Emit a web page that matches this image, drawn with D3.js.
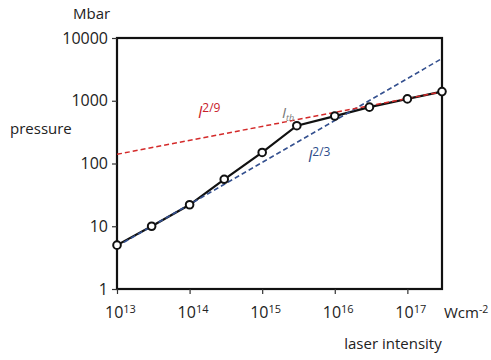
<!DOCTYPE html>
<html>
<head>
<meta charset="utf-8">
<script src="https://cdn.jsdelivr.net/npm/d3@7"></script>
<style>
  body { margin: 0; background: #fff; }
  svg text { font-family: "Open Sans", "Noto Sans", sans-serif; }
</style>
</head>
<body>
<script>
// measured pressure vs laser intensity
var intensity = [1e13, 3e13, 1e14, 3e14, 1e15, 3e15, 1e16, 3e16, 1e17, 3e17];
var pressure = [5, 10, 22, 56, 150, 400, 570, 790, 1070, 1400];

// scaling lines (end points)
var fit29 = [[1e13, 140], [3e17, 1390]];
var fit23 = [[1e13, 4.8], [3e17, 4700]];

var xTicks = [13, 14, 15, 16, 17];
var yTicks = [1, 10, 100, 1000, 10000];

var w = 491, h = 360;
var margin = { top: 38, right: 49, bottom: 71, left: 117 },
  width = w - margin.left - margin.right,
  height = h - margin.top - margin.bottom;

var svg = d3.select("body").append("svg")
  .attr("width", w)
  .attr("height", h);

var x = d3.scaleLog()
  .domain([1e13, 3e17])
  .range([0, width]);

var y = d3.scaleLog()
  .domain([1, 10000])
  .range([height, 0]);

var g = svg.append("g")
  .attr("transform", "translate(" + margin.left + "," + margin.top + ")");

// frame
g.append("rect")
  .attr("width", width)
  .attr("height", height)
  .attr("fill", "none")
  .attr("stroke", "#111")
  .attr("stroke-width", 2.2);

var yAxis = d3.axisLeft(y)
  .tickValues(yTicks)
  .tickFormat(d3.format("d"))
  .tickSize(5)
  .tickPadding(4);

var yG = g.append("g").call(yAxis);
yG.select(".domain").remove();
yG.selectAll("line").attr("stroke", "#333").attr("stroke-width", 1.2);
yG.selectAll("text")
  .attr("font-size", 16)
  .attr("fill", "#222");

var xAxis = d3.axisBottom(x)
  .tickValues(xTicks.map(function (e) { return Math.pow(10, e); }))
  .tickFormat("")
  .tickSize(5);

var xG = g.append("g")
  .attr("transform", "translate(0," + height + ")")
  .call(xAxis);
xG.select(".domain").remove();
xG.selectAll("line").attr("stroke", "#333").attr("stroke-width", 1.2);

// x tick labels with superscript exponents
xTicks.forEach(function (e) {
  var t = g.append("text")
    .attr("x", x(Math.pow(10, e)) - 12)
    .attr("y", height + 29)
    .attr("font-size", 16)
    .attr("fill", "#222");
  t.append("tspan").text("10");
  t.append("tspan")
    .attr("dy", -5)
    .attr("font-size", 11)
    .text(e);
});

var line = d3.line()
  .x(function (d) { return x(d[0]); })
  .y(function (d) { return y(d[1]); });

var points = intensity.map(function (d, i) { return [d, pressure[i]]; });

g.append("path")
  .datum(points)
  .attr("d", line)
  .attr("fill", "none")
  .attr("stroke", "#111")
  .attr("stroke-width", 2.2);

g.append("path")
  .datum(fit23)
  .attr("d", line)
  .attr("fill", "none")
  .attr("stroke", "#34508f")
  .attr("stroke-width", 1.5)
  .attr("stroke-dasharray", "5,3");

g.append("path")
  .datum(fit29)
  .attr("d", line)
  .attr("fill", "none")
  .attr("stroke", "#d42a2a")
  .attr("stroke-width", 1.5)
  .attr("stroke-dasharray", "5,3");

g.selectAll("circle.pt")
  .data(points)
  .enter().append("circle")
  .attr("class", "pt")
  .attr("cx", function (d) { return x(d[0]); })
  .attr("cy", function (d) { return y(d[1]); })
  .attr("r", 3.8)
  .attr("fill", "#fff")
  .attr("stroke", "#111")
  .attr("stroke-width", 2);

// annotations
var a1 = svg.append("text")
  .attr("x", 198)
  .attr("y", 118)
  .attr("font-size", 16)
  .attr("fill", "#c8202a");
a1.append("tspan").attr("font-style", "italic").text("I");
a1.append("tspan").attr("dy", -6).attr("font-size", 12).text("2/9");

var a2 = svg.append("text")
  .attr("x", 308)
  .attr("y", 162)
  .attr("font-size", 16)
  .attr("fill", "#2e4d8c");
a2.append("tspan").attr("font-style", "italic").text("I");
a2.append("tspan").attr("dy", -6).attr("font-size", 12).text("2/3");

var a3 = svg.append("text")
  .attr("x", 282)
  .attr("y", 118)
  .attr("font-size", 15)
  .attr("font-family", "'DejaVu Serif', serif")
  .attr("fill", "#777");
a3.append("tspan").attr("font-style", "italic").text("I");
a3.append("tspan").attr("dy", 3).attr("font-size", 9).attr("font-style", "italic").text("th");

svg.append("text")
  .attr("x", 73)
  .attr("y", 19)
  .attr("font-size", 15)
  .attr("fill", "#222")
  .text("Mbar");

svg.append("text")
  .attr("x", 10)
  .attr("y", 134)
  .attr("font-size", 15)
  .attr("fill", "#222")
  .text("pressure");

var u = svg.append("text")
  .attr("x", 444)
  .attr("y", 318)
  .attr("font-size", 15)
  .attr("fill", "#222");
u.append("tspan").text("Wcm");
u.append("tspan").attr("dy", -5).attr("font-size", 10.5).text("-2");

svg.append("text")
  .attr("x", 393)
  .attr("y", 349)
  .attr("text-anchor", "middle")
  .attr("font-size", 15)
  .attr("fill", "#222")
  .text("laser intensity");
</script>
</body>
</html>
